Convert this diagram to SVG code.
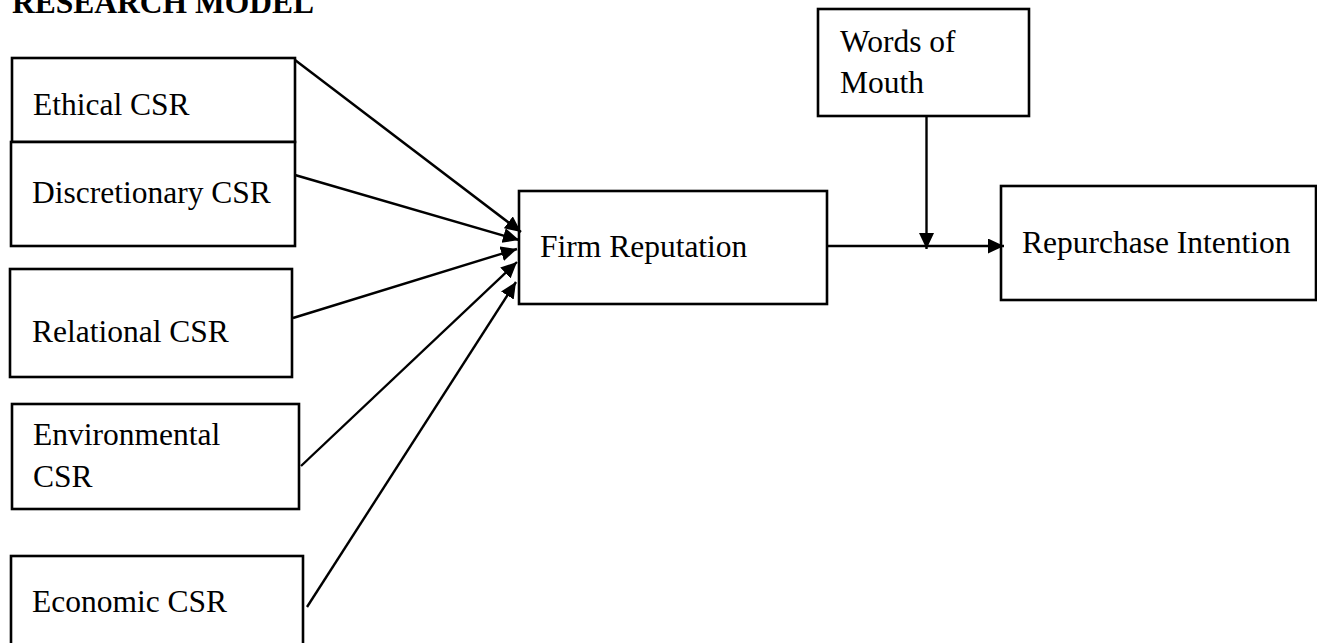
<svg xmlns="http://www.w3.org/2000/svg" width="1317" height="643" viewBox="0 0 1317 643">
  <style>
    .box { fill: #ffffff; stroke: #000000; stroke-width: 2.6; }
    .lbl { font-family: "Liberation Serif", "Times New Roman", serif; font-size: 31.5px; fill: #000000; }
    .title { font-family: "Liberation Serif", "Times New Roman", serif; font-size: 31.5px; font-weight: bold; fill: #000000; }
    .link { stroke: #000000; stroke-width: 2.4; fill: none; marker-end: url(#arrow); }
  </style>
  <defs>
    <marker id="arrow" markerUnits="userSpaceOnUse" markerWidth="17" markerHeight="16" refX="16" refY="7.5" orient="auto">
      <path d="M0,0 L16,7.5 L0,15 z" fill="#000000"/>
    </marker>
  </defs>
  <rect width="1317" height="643" fill="#ffffff"/>

  <text class="title" x="12" y="13">RESEARCH MODEL</text>

  <g id="ethical-csr">
    <rect class="box" x="12" y="58" width="283" height="84"/>
    <text class="lbl" x="33" y="115">Ethical CSR</text>
  </g>
  <g id="discretionary-csr">
    <rect class="box" x="11" y="142" width="284" height="104"/>
    <text class="lbl" x="32" y="203">Discretionary CSR</text>
  </g>
  <g id="relational-csr">
    <rect class="box" x="10" y="269" width="282" height="108"/>
    <text class="lbl" x="32" y="342">Relational CSR</text>
  </g>
  <g id="environmental-csr">
    <rect class="box" x="12" y="404" width="287" height="105"/>
    <text class="lbl" x="33" y="445">Environmental</text>
    <text class="lbl" x="33" y="487">CSR</text>
  </g>
  <g id="economic-csr">
    <rect class="box" x="11" y="556" width="292" height="100"/>
    <text class="lbl" x="32" y="612">Economic CSR</text>
  </g>
  <g id="firm-reputation">
    <rect class="box" x="519" y="191" width="308" height="113"/>
    <text class="lbl" x="540" y="257">Firm Reputation</text>
  </g>
  <g id="words-of-mouth">
    <rect class="box" x="818" y="9" width="211" height="107"/>
    <text class="lbl" x="840" y="52">Words of</text>
    <text class="lbl" x="840" y="93">Mouth</text>
  </g>
  <g id="repurchase-intention">
    <rect class="box" x="1001" y="186" width="315" height="114"/>
    <text class="lbl" x="1022" y="253">Repurchase Intention</text>
  </g>

  <g id="connectors">
    <line class="link" x1="295" y1="60" x2="521" y2="232"/>
    <line class="link" x1="295" y1="175" x2="519" y2="240"/>
    <line class="link" x1="293" y1="318" x2="517" y2="249"/>
    <line class="link" x1="301" y1="466" x2="517" y2="262"/>
    <line class="link" x1="307" y1="607" x2="516" y2="282"/>
    <line class="link" x1="926.5" y1="116" x2="926.5" y2="249"/>
    <line class="link" x1="827" y1="246" x2="1004" y2="246"/>
  </g>
</svg>
